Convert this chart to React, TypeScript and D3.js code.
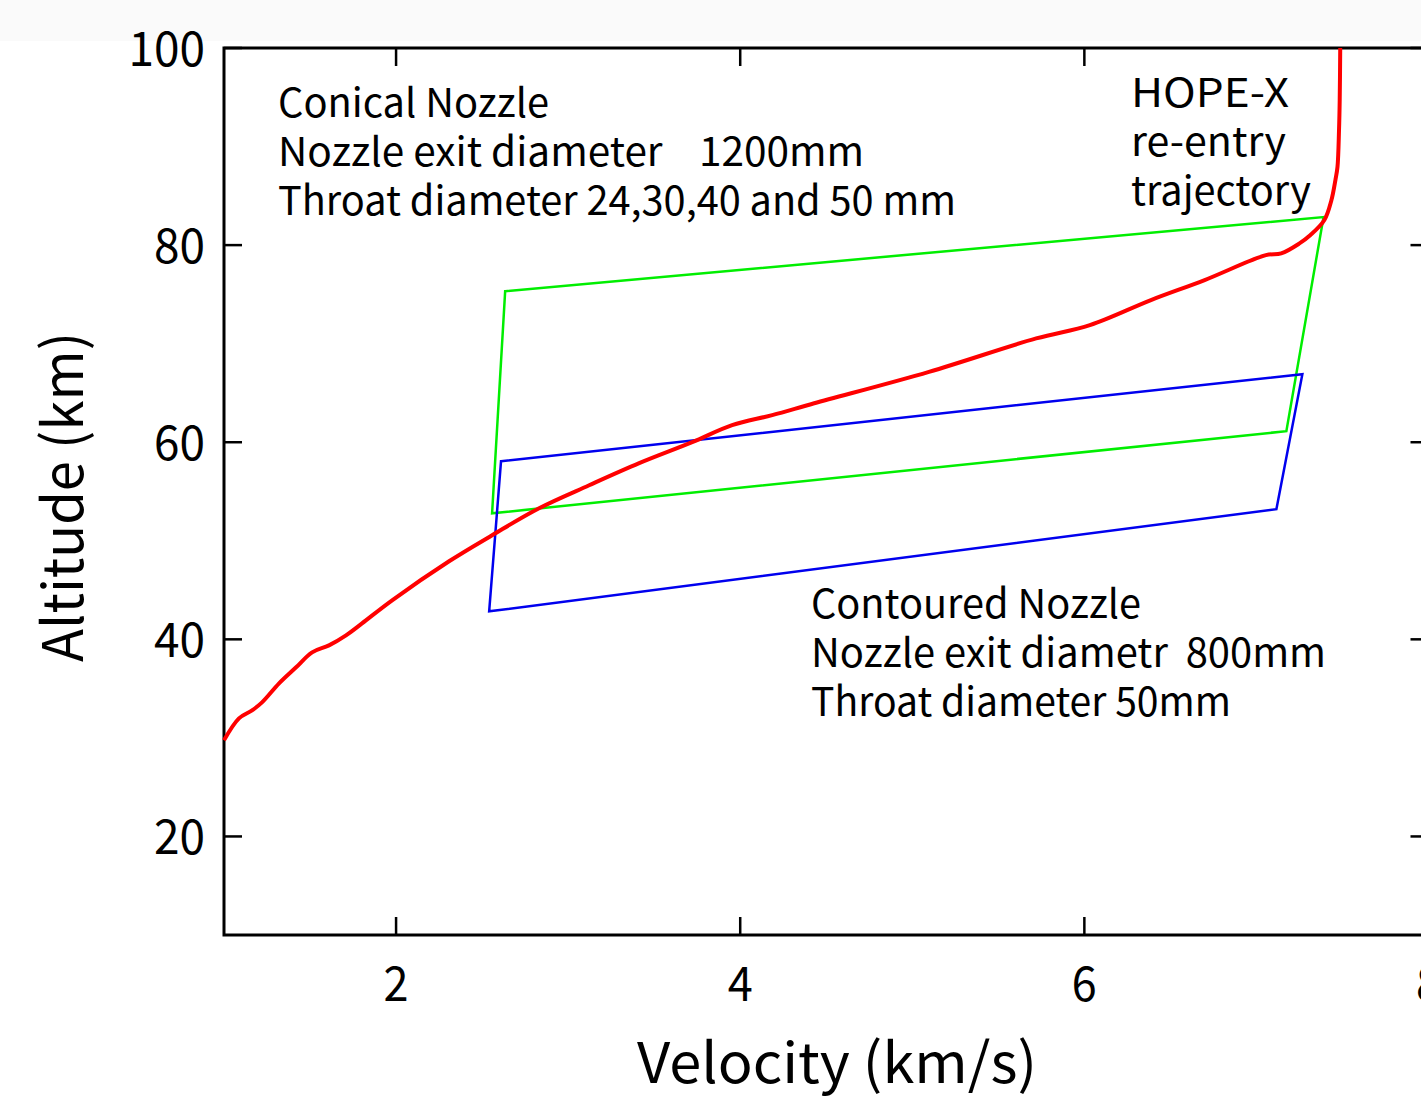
import React from 'react';
import * as d3 from 'd3';

const W = 1421;
const H = 1100;

const xTicks = [2, 4, 6, 8];
const yTicks = [20, 40, 60, 80, 100];
const xDomain = [1, 8];
const yDomain = [10, 100];

// HOPE-X re-entry trajectory (velocity km/s, altitude km)
const trajVelocity = [1.0, 1.087, 1.163, 1.221, 1.32, 1.419, 1.512, 1.61, 1.709, 1.802, 1.977, 2.308, 2.558, 2.831, 3.122, 3.413, 3.721, 3.953, 4.186, 4.43, 5.097, 5.72, 6.032, 6.387, 6.699, 7.055, 7.144, 7.25, 7.314, 7.395, 7.436, 7.459, 7.471, 7.48, 7.484, 7.487];
const trajAltitude = [29.75, 31.98, 32.79, 33.6, 35.53, 37.16, 38.68, 39.39, 40.41, 41.62, 43.96, 47.92, 50.56, 53.3, 55.63, 57.87, 60.0, 61.73, 62.75, 63.95, 67.14, 70.53, 71.88, 74.42, 76.45, 78.98, 79.16, 80.17, 81.02, 82.54, 84.57, 86.6, 87.92, 91.68, 94.72, 100];

// Conical nozzle test envelope (green)
const conicalVelocity = [2.634, 7.39, 7.174, 2.558];
const conicalAltitude = [75.33, 82.84, 61.12, 52.79];

// Contoured nozzle test envelope (blue)
const contouredVelocity = [2.61, 7.267, 7.116, 2.541];
const contouredAltitude = [58.07, 66.9, 53.2, 42.84];

const conicalLines = ['Conical Nozzle', 'Nozzle exit diameter    1200mm', 'Throat diameter 24,30,40 and 50 mm'];
const conicalWidths = [271, 586, 678];
const contouredLines = ['Contoured Nozzle', 'Nozzle exit diametr  800mm', 'Throat diameter 50mm'];
const contouredWidths = [330, 515, 420];
const hopeLines = ['HOPE-X', 're-entry', 'trajectory'];
const hopeWidths = [158, 155, 180];

const xLabel = 'Velocity (km/s)';
const yLabel = 'Altitude (km)';

const FONT = '"Noto Sans CJK JP", "Noto Sans", sans-serif';

export default function App() {
  const left = 224;
  const top = 48;
  const right = 1428.5;
  const bottom = 935;
  const x = d3.scaleLinear().domain(xDomain).range([left, right]);
  const y = d3.scaleLinear().domain(yDomain).range([bottom, top]);

  const traj = trajVelocity.map((v, i) => [v, trajAltitude[i]] as [number, number]);
  const conical = conicalVelocity.map((v, i) => [v, conicalAltitude[i]] as [number, number]);
  const contoured = contouredVelocity.map((v, i) => [v, contouredAltitude[i]] as [number, number]);

  const line = d3
    .line<[number, number]>()
    .x((d) => x(d[0]))
    .y((d) => y(d[1]))
    .curve(d3.curveCatmullRom.alpha(0.5));
  const poly = d3.line<[number, number]>().x((d) => x(d[0])).y((d) => y(d[1])).curve(d3.curveLinearClosed);

  const tickLen = 18;
  const textBlock = (lines: string[], widths: number[], x0: number, y0: number, fs: number, gap: number) =>
    lines.map((t, i) => (
      <text
        key={t}
        x={x0}
        y={y0 + i * gap}
        fontSize={fs}
        textLength={widths[i]}
        lengthAdjust="spacingAndGlyphs"
        style={{ whiteSpace: 'pre' }}
        xmlSpace="preserve"
      >
        {t}
      </text>
    ));

  return (
    <svg
      width={W}
      height={H}
      viewBox={`0 0 ${W} ${H}`}
      style={{ position: 'absolute', left: 0, top: 0, display: 'block', background: '#ffffff' }}
      fontFamily={FONT}
    >
      <rect x={0} y={0} width={W} height={41} fill="#fafafa" />
      <rect x={0} y={41} width={W} height={H - 41} fill="#ffffff" />

      {/* ticks */}
      <g stroke="#000" strokeWidth={2.5}>
        {xTicks.map((t) => (
          <g key={'xt' + t}>
            <line x1={x(t)} x2={x(t)} y1={bottom} y2={bottom - tickLen} />
            <line x1={x(t)} x2={x(t)} y1={top} y2={top + tickLen} />
          </g>
        ))}
        {yTicks.map((t) => (
          <g key={'yt' + t}>
            <line x1={left} x2={left + tickLen} y1={y(t)} y2={y(t)} />
            <line x1={right} x2={right - tickLen} y1={y(t)} y2={y(t)} />
          </g>
        ))}
      </g>

      {/* frame */}
      <rect x={left} y={top} width={right - left} height={bottom - top} fill="none" stroke="#000" strokeWidth={3} />

      {/* tick labels */}
      <g fill="#000" fontSize={48}>
        {xTicks.map((t) => (
          <text key={'xl' + t} x={x(t)} y={1001} textAnchor="middle" textLength={String(t).length * 25} lengthAdjust="spacingAndGlyphs">
            {t}
          </text>
        ))}
        {yTicks.map((t) => (
          <text key={'yl' + t} x={205} y={y(t) + 18} textAnchor="end" textLength={String(t).length * 25.5} lengthAdjust="spacingAndGlyphs">
            {t}
          </text>
        ))}
      </g>

      {/* envelopes */}
      <path d={poly(conical) || ''} fill="none" stroke="#00ee00" strokeWidth={2.5} />
      <path d={poly(contoured) || ''} fill="none" stroke="#0000ee" strokeWidth={2.5} />

      {/* trajectory */}
      <path d={line(traj) || ''} fill="none" stroke="#ff0000" strokeWidth={4} strokeLinejoin="round" />

      {/* annotations */}
      <g fill="#000">
        {textBlock(conicalLines, conicalWidths, 278, 117, 40, 49)}
        {textBlock(contouredLines, contouredWidths, 811, 618, 40, 49)}
        {textBlock(hopeLines, hopeWidths, 1131, 107, 40, 49)}
      </g>

      {/* axis titles */}
      <text x={837} y={1083} fontSize={56} textAnchor="middle" textLength={400} lengthAdjust="spacingAndGlyphs" fill="#000">
        {xLabel}
      </text>
      <text
        transform={`translate(83, 497) rotate(-90)`}
        x={0}
        y={0}
        fontSize={56}
        textAnchor="middle"
        textLength={330}
        lengthAdjust="spacingAndGlyphs"
        fill="#000"
      >
        {yLabel}
      </text>
    </svg>
  );
}
